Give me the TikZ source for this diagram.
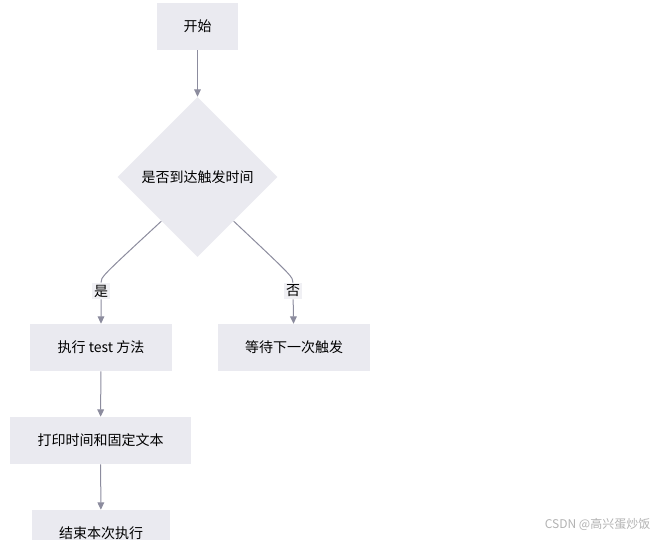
\documentclass[tikz,border=0pt]{standalone}
\usepackage{fontspec}
\newfontfamily\cjk{Noto Sans CJK SC}
\usepackage{xcolor}
\usepackage{tikz}
\usetikzlibrary{shapes.geometric,arrows.meta,calc}
\definecolor{relleno}{RGB}{234,234,240}
\definecolor{linea}{RGB}{140,140,158}
\tikzset{
  texto/.style={font=\cjk\fontsize{10.5}{12}\selectfont},
  caja/.style={texto,fill=relleno,inner sep=0pt,minimum height=35.25pt},
  rombo/.style={texto,diamond,aspect=1,fill=relleno,inner sep=0pt,minimum size=120pt},
  flecha/.style={-{Triangle[width=5pt,length=5.5pt]},linea,line width=0.75pt},
  etiq/.style={texto,fill=relleno!70,inner sep=1.5pt}
}
\begin{document}
\begin{tikzpicture}[x=0.75pt,y=-0.75pt]
\clip (0,0) rectangle (660,539);
% nodos
\node[caja,minimum width=60.75pt] (inicio) at (197.5,26.5) {开始};
\node[rombo] (decide) at (197.5,177) {是否到达触发时间};
\node[caja,minimum width=106.5pt] (test) at (101,347.5) {执行 test 方法};
\node[caja,minimum width=114pt] (espera) at (294,347.5) {等待下一次触发};
\node[caja,minimum width=135.75pt] (imprime) at (100.5,440.5) {打印时间和固定文本};
\node[caja,minimum width=103.5pt] (fin) at (101,533.5) {结束本次执行};
% etiquetas
\node[etiq] (si) at (101,291) {是};
\node[etiq] (no) at (293,291) {否};
% salidas del rombo
\coordinate (sa) at ($(decide.south west)!0.1!(decide.south)$);
\coordinate (sb) at ($(decide.south east)!0.1!(decide.south)$);
% flechas
\draw[flecha] (inicio) -- (decide);
\draw[flecha] (sa) .. controls (101,277) .. (si.north) (si) -- (test);
\draw[flecha] (sb) .. controls (293,277) .. (no.north) (no) -- (espera);
\draw[flecha] (test) -- (imprime);
\draw[flecha] (imprime) -- (fin);
% marca
\node[gray!60,font=\cjk\fontsize{9}{10}\selectfont,anchor=east] (marca) at (655,524) {CSDN @高兴蛋炒饭};
\end{tikzpicture}
\end{document}
